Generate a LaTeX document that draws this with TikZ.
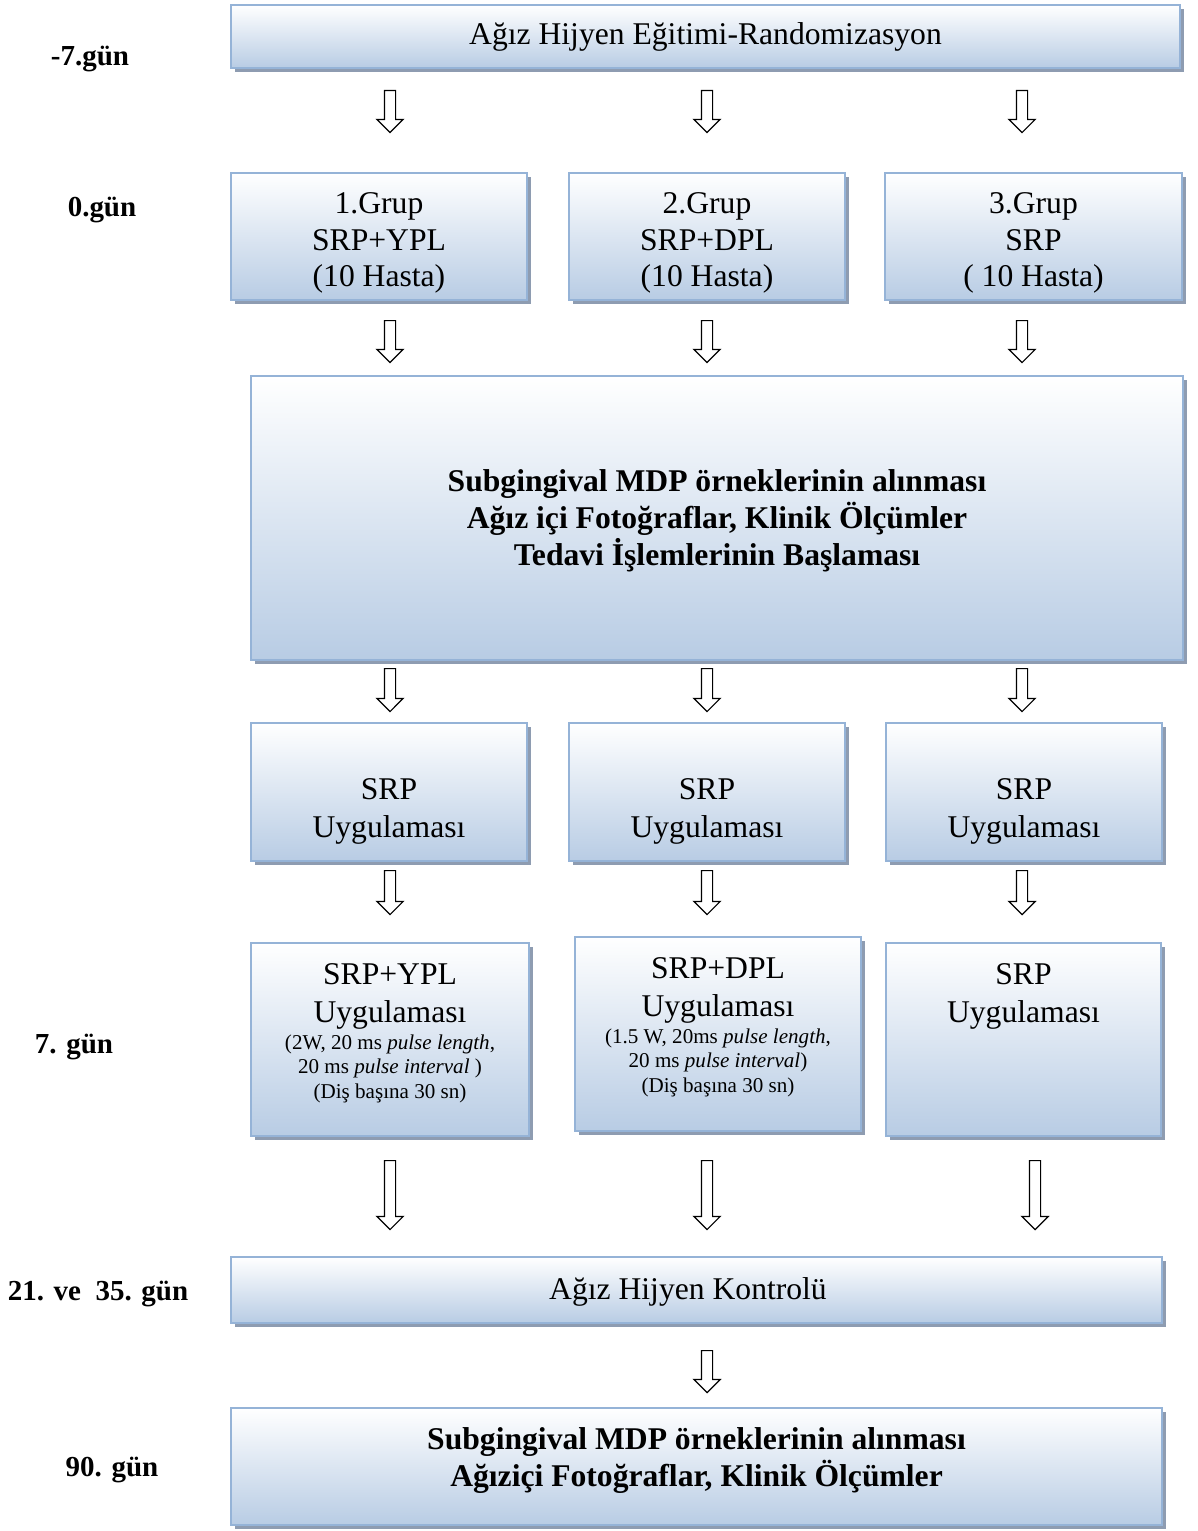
\documentclass[tikz,border=0pt]{standalone}
\usepackage{fontspec}
\setmainfont{Liberation Serif}
\usetikzlibrary{positioning,shadows,shapes.arrows}
\definecolor{boxline}{HTML}{95B3D7}
\definecolor{boxfill}{HTML}{B8CCE4}
\definecolor{boxshadow}{HTML}{8E9CB1}
\newcommand{\smallf}{\fontsize{12}{14}\selectfont}

\begin{document}
\begin{tikzpicture}[
    x=0.02cm, y=-0.02cm,
    every node/.style={font=\fontsize{18}{21.5}\selectfont, inner sep=0pt},
    box/.style={
      draw=boxline, line width=1.1pt,
      top color=white, bottom color=boxfill,
      drop shadow={shadow xshift=0.08cm, shadow yshift=-0.08cm,
        fill=boxshadow, opacity=1},
      align=center
    },
    boldbox/.style={box, font=\fontsize{18}{21}\selectfont\bfseries},
    txt/.style={align=center},
    grptxt/.style={align=center, font=\fontsize{18}{20.8}\selectfont},
    day/.style={font=\fontsize{16.5}{20}\selectfont\bfseries},
    downarr/.style={
      single arrow, draw=black, fill=white, line width=0.7pt,
      shape border rotate=270, inner sep=0.1cm,
      single arrow head extend=0.15cm, single arrow tip angle=90,
      minimum height=#1, anchor=tail
    },
    downarr/.default=0.84cm
  ]
  \path[use as bounding box, fill=white] (0,0) rectangle (1197,1531);

  % gunler
  \node[day] (d1) at (90,59) {-7.gün};
  \node[day] (d2) at (102,210) {0.gün};
  \node[day] (d3) at (74,1047) {7. gün};
  \node[day] (d4) at (98,1294) {21. ve~ 35. gün};
  \node[day] (d5) at (112,1470) {90. gün};

  % kutular
  \node[box, minimum width=18.98cm, minimum height=1.26cm] (hyg) at (705.5,36.5)
    {Ağız Hijyen Eğitimi-Randomizasyon};

  \node[box, minimum width=5.92cm, minimum height=2.54cm] (g1) at (379,236.5) {};
  \node[box, minimum width=5.52cm, minimum height=2.54cm] (g2) at (707,236.5) {};
  \node[box, minimum width=5.94cm, minimum height=2.54cm] (g3) at (1033.5,236.5) {};
  \node[grptxt, below=0.41cm of g1.north] (g1t) {1.Grup\\SRP+YPL\\(10 Hasta)};
  \node[grptxt, below=0.41cm of g2.north] (g2t) {2.Grup\\SRP+DPL\\(10 Hasta)};
  \node[grptxt, below=0.41cm of g3.north] (g3t) {3.Grup\\SRP\\( 10 Hasta)};

  \node[boldbox, minimum width=18.64cm, minimum height=5.68cm] (bas) at (717,518) {};
  \node[txt, font=\fontsize{18}{21}\selectfont\bfseries, below=1.88cm of bas.north] (bast)
    {Subgingival MDP örneklerinin alınması\\
     Ağız içi Fotoğraflar, Klinik Ölçümler\\
     Tedavi İşlemlerinin Başlaması};

  \node[box, minimum width=5.52cm, minimum height=2.76cm] (s1) at (389,792) {};
  \node[box, minimum width=5.52cm, minimum height=2.76cm] (s2) at (707,792) {};
  \node[box, minimum width=5.52cm, minimum height=2.76cm] (s3) at (1024,792) {};
  \node[txt, below=1.12cm of s1.north] (s1t) {SRP\\Uygulaması};
  \node[txt, below=1.12cm of s2.north] (s2t) {SRP\\Uygulaması};
  \node[txt, below=1.12cm of s3.north] (s3t) {SRP\\Uygulaması};

  \node[box, minimum width=5.56cm, minimum height=3.86cm] (l1) at (390,1039.5) {};
  \node[box, minimum width=5.72cm, minimum height=3.88cm] (l2) at (718,1034) {};
  \node[box, minimum width=5.5cm, minimum height=3.86cm] (l3) at (1023.5,1039.5) {};
  \node[txt, below=0.42cm of l1.north] (l1t) {SRP+YPL\\Uygulaması\\[-6pt]
    {\smallf(2W, 20 ms \textit{pulse length},}\\[-7.5pt]
    {\smallf 20 ms \textit{pulse interval} )}\\[-7.5pt]
    {\smallf(Diş başına 30 sn)}};
  \node[txt, below=0.42cm of l2.north] (l2t) {SRP+DPL\\Uygulaması\\[-6pt]
    {\smallf(1.5 W, 20ms \textit{pulse length},}\\[-7.5pt]
    {\smallf 20 ms \textit{pulse interval})}\\[-7.5pt]
    {\smallf(Diş başına 30 sn)}};
  \node[txt, below=0.42cm of l3.north] (l3t) {SRP\\Uygulaması};

  \node[box, minimum width=18.62cm, minimum height=1.32cm] (kon) at (696.5,1290) {};
  \node[txt] (kont) at (688,1292) {Ağız Hijyen Kontrolü};
  \node[boldbox, minimum width=18.62cm, minimum height=2.34cm] (son) at (696.5,1466.5) {};
  \node[txt, font=\fontsize{18}{21}\selectfont\bfseries, below=0.4cm of son.north] (sont)
    {Subgingival MDP örneklerinin alınması\\
     Ağıziçi Fotoğraflar, Klinik Ölçümler};

  % oklar
  \node[downarr] (a11) at (390,90) {};
  \node[downarr] (a12) at (707,90) {};
  \node[downarr] (a13) at (1022,90) {};
  \node[downarr] (a21) at (390,320) {};
  \node[downarr] (a22) at (707,320) {};
  \node[downarr] (a23) at (1022,320) {};
  \node[downarr=0.86cm] (a31) at (390,668) {};
  \node[downarr=0.86cm] (a32) at (707,668) {};
  \node[downarr=0.86cm] (a33) at (1022,668) {};
  \node[downarr=0.88cm] (a41) at (390,870) {};
  \node[downarr=0.88cm] (a42) at (707,870) {};
  \node[downarr=0.88cm] (a43) at (1022,870) {};
  \node[downarr=1.38cm] (a51) at (390,1160) {};
  \node[downarr=1.38cm] (a52) at (707,1160) {};
  \node[downarr=1.38cm] (a53) at (1035,1160) {};
  \node[downarr] (a61) at (707,1350) {};
\end{tikzpicture}
\end{document}
